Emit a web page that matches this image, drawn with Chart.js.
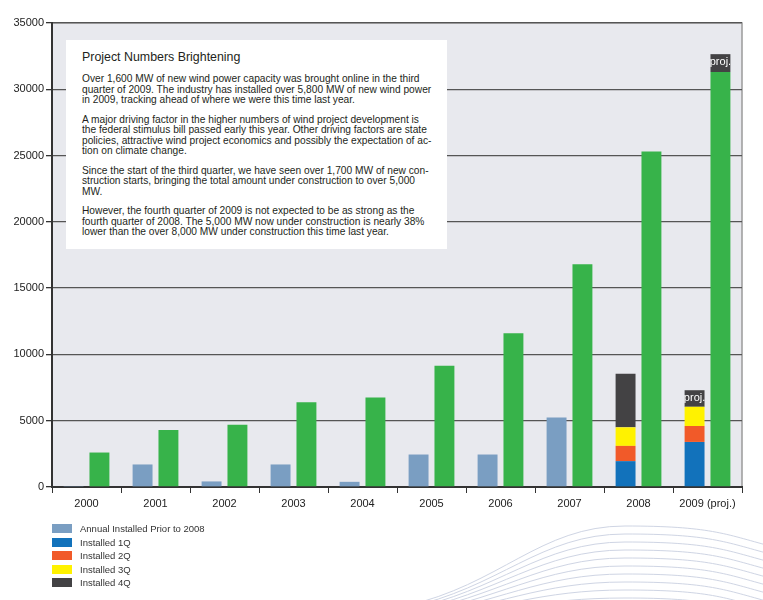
<!doctype html>
<html>
<head>
<meta charset="utf-8">
<title>Project Numbers Brightening</title>
<script src="https://cdn.jsdelivr.net/npm/chart.js"></script>
<style>
  body{margin:0;background:#fff;font-family:"Liberation Sans",Arial,sans-serif}
  #wrap{position:relative;width:763px;height:600px;overflow:hidden}
  #waves{position:absolute;left:0;top:0}
  #chart{position:absolute;left:0;top:0}
  #note{position:absolute;left:66px;top:40px;width:381px;height:209px;background:#fff;box-sizing:border-box;padding:10px 0 0 16px;color:#231f20;white-space:nowrap}
  #note h3{margin:0 0 10px 0;font-size:12.4px;font-weight:normal}
  #note p{margin:0 0 9px 0;font-size:10.2px;line-height:10.5px}
  #legend{position:absolute;left:52px;top:522px;font-size:9.5px;color:#333}
  #legend div{height:13.5px;display:flex;align-items:center}
  #legend span.sw{display:inline-block;width:20px;height:9px;margin-right:8px}
</style>
</head>
<body>
<div id="wrap">
  <svg id="waves" width="763" height="600"></svg>
  <canvas id="chart" width="763" height="600"></canvas>
  <div id="note">
    <h3>Project Numbers Brightening</h3>
    <p>Over 1,600 MW of new wind power capacity was brought online in the third<br>quarter of 2009.  The industry has installed over 5,800 MW of new wind power<br>in 2009, tracking ahead of where we were this time last year.</p>
    <p>A major driving factor in the higher numbers of wind project development is<br>the federal stimulus bill passed early this year.  Other driving factors are state<br>policies, attractive wind project economics and possibly the expectation of ac-<br>tion on climate change.</p>
    <p>Since the start of the third quarter, we have seen over 1,700 MW of new con-<br>struction starts, bringing the total amount under construction to over 5,000<br>MW.</p>
    <p>However, the fourth quarter of 2009 is not expected to be as strong as the<br>fourth quarter of 2008.  The 5,000 MW now under construction is nearly 38%<br>lower than the over 8,000 MW under construction this time last year.</p>
  </div>
  <div id="legend"></div>
</div>
<script>
const years = ['2000','2001','2002','2003','2004','2005','2006','2007','2008','2009 (proj.)'];
const annualPrior = [70, 1700, 420, 1700, 390, 2450, 2450, 5250, null, null];
const q1 = [null, null, null, null, null, null, null, null, 1950, 3400];
const q2 = [null, null, null, null, null, null, null, null, 1150, 1200];
const q3 = [null, null, null, null, null, null, null, null, 1400, 1450];
const q4 = [null, null, null, null, null, null, null, null, 4050, 1250];
const cumulative = [2600, 4300, 4700, 6400, 6750, 9150, 11600, 16800, 25300, 31300];
const cumulativeProj = [null, null, null, null, null, null, null, null, null, 1350];
const yTicks = [0, 5000, 10000, 15000, 20000, 25000, 30000, 35000];

const colors = {
  prior: '#7a9ec2', q1: '#1272bb', q2: '#f15a29', q3: '#fff200', q4: '#434244', green: '#37b34a'
};

// decorative curves, bottom right
const svg = document.getElementById('waves');
let paths = '';
for (let i = 0; i < 10; i++) {
  paths += `<path d="M405 ${606 + i * 2} C 500 ${585 + i * 3}, 540 ${526 + i * 8}, 625 ${526 + i * 8} S 725 ${534 + i * 8}, 770 ${546 + i * 8}" fill="none" stroke="#cfd5e4" stroke-width="1"/>`;
}
svg.innerHTML = paths;

const plotBg = {
  id: 'plotBg',
  beforeDraw(chart) {
    const {ctx, chartArea: a} = chart;
    ctx.save();
    ctx.fillStyle = '#e8e9ee';
    ctx.fillRect(a.left, a.top, a.right - a.left, a.bottom - a.top);
    ctx.strokeStyle = '#9a9a9a';
    ctx.lineWidth = 1.5;
    ctx.beginPath();
    ctx.moveTo(a.left, a.top);
    ctx.lineTo(a.right, a.top);
    ctx.lineTo(a.right, a.bottom);
    ctx.stroke();
    ctx.restore();
  }
};

const projLabels = {
  id: 'projLabels',
  afterDatasetsDraw(chart) {
    const {ctx} = chart;
    ctx.save();
    ctx.fillStyle = '#ffffff';
    ctx.font = '11px "Liberation Sans", Arial, sans-serif';
    ctx.textAlign = 'center';
    ctx.textBaseline = 'top';
    [4, 6].forEach(di => {
      const el = chart.getDatasetMeta(di).data[9];
      if (el) ctx.fillText('proj.', el.x, el.y + 2);
    });
    ctx.restore();
  }
};

const bar = (label, data, color, stack) => ({
  label, data, stack, backgroundColor: color,
  borderWidth: 0, barPercentage: 0.77, categoryPercentage: 0.75
});

const chart = new Chart(document.getElementById('chart'), {
  type: 'bar',
  data: {
    labels: years,
    datasets: [
      bar('Annual Installed Prior to 2008', annualPrior, colors.prior, 'a'),
      bar('Installed 1Q', q1, colors.q1, 'a'),
      bar('Installed 2Q', q2, colors.q2, 'a'),
      bar('Installed 3Q', q3, colors.q3, 'a'),
      bar('Installed 4Q', q4, colors.q4, 'a'),
      bar('Cumulative', cumulative, colors.green, 'b'),
      bar('Cumulative (proj.)', cumulativeProj, colors.q4, 'b')
    ]
  },
  options: {
    responsive: false,
    animation: false,
    layout: { padding: { top: 23, right: 21, left: 0, bottom: 83 } },
    plugins: { legend: { display: false }, tooltip: { enabled: false } },
    scales: {
      x: {
        stacked: true,
        afterFit: s => { s.height = 30; },
        grid: { offset: true, drawOnChartArea: false, tickLength: 6, color: '#333', lineWidth: 1 },
        border: { color: '#333', width: 2 },
        ticks: { color: '#222', font: { family: '"Liberation Sans", Arial, sans-serif', size: 11 }, padding: 4, maxRotation: 0 }
      },
      y: {
        stacked: true,
        min: 0, max: 35000,
        afterFit: s => { s.width = 52; },
        afterBuildTicks: s => { s.ticks = yTicks.map(v => ({ value: v })); },
        grid: {
          color: ctx => (ctx.tick && ctx.tick.value === 0) ? 'rgba(0,0,0,0)' : '#555',
          lineWidth: 1.3, tickLength: 6, tickColor: '#333'
        },
        border: { color: '#333', width: 2 },
        ticks: {
          color: '#222', font: { family: '"Liberation Sans", Arial, sans-serif', size: 11 }, padding: 2,
          callback: v => String(v)
        }
      }
    }
  },
  plugins: [plotBg, projLabels]
});

// legend (vertical list, first five series)
const legend = document.getElementById('legend');
chart.data.datasets.slice(0, 5).forEach(ds => {
  const row = document.createElement('div');
  row.innerHTML = `<span class="sw" style="background:${ds.backgroundColor}"></span>${ds.label}`;
  legend.appendChild(row);
});
</script>
</body>
</html>
